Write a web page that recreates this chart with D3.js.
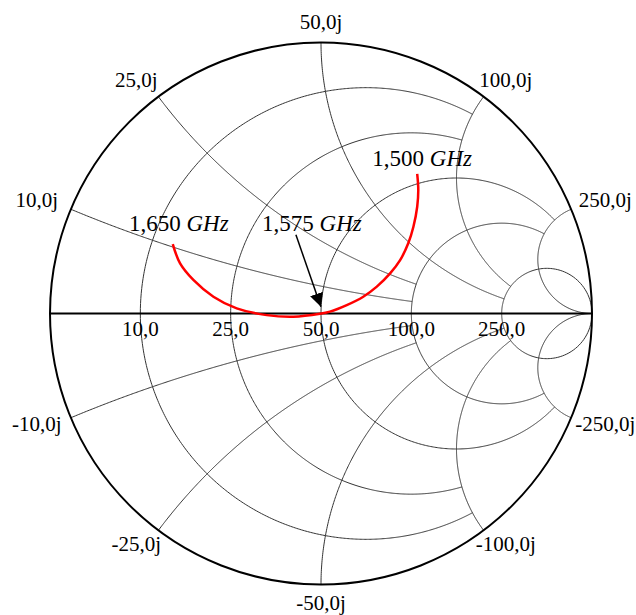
<!DOCTYPE html>
<html>
<head>
<meta charset="utf-8">
<script src="https://cdn.jsdelivr.net/npm/d3@7"></script>
<style>
  html, body { margin: 0; padding: 0; background: #fff; }
  svg { display: block; }
  text { font-family: "Liberation Serif", "Times New Roman", serif; fill: #000; }
</style>
</head>
<body>
<svg id="chart" width="636" height="615"></svg>
<script>
// ---------------- data ----------------
const Z0 = 50;
const resistanceOhms = [10, 25, 50, 100, 250];
const resistanceEndReactanceOhms = [100, 100, 250, 250, Infinity];
const resistanceLabels = ["10,0", "25,0", "50,0", "100,0", "250,0"];

const reactanceOhms = [10, 25, 50, 100, 250];
const reactanceEndResistanceOhms = [100, 100, 250, 250, Infinity];
const reactanceLabelsPos = ["10,0j", "25,0j", "50,0j", "100,0j", "250,0j"];
const reactanceLabelsNeg = ["-10,0j", "-25,0j", "-50,0j", "-100,0j", "-250,0j"];

// measured trace (reflection coefficient), 1,500 GHz -> 1,650 GHz
const traceRe = [0.355, 0.359, 0.355, 0.341, 0.322, 0.292, 0.255, 0.206, 0.156, 0.095, 0.033, -0.004, -0.102, -0.200, -0.311, -0.397, -0.471, -0.520, -0.547];
const traceIm = [0.515, 0.456, 0.394, 0.320, 0.259, 0.197, 0.148, 0.099, 0.062, 0.031, 0.007, -0.001, -0.012, -0.006, 0.019, 0.062, 0.124, 0.185, 0.256];

const markerFreqs = ["1,500", "1,575", "1,650"];
const markerIndex = [0, 11, 18];
const freqUnit = "GHz";

// ---------------- layout ----------------
const cx = 321, cy = 313.5, R = 271;
const x = d3.scaleLinear().domain([-1, 1]).range([cx - R, cx + R]);
const y = d3.scaleLinear().domain([-1, 1]).range([cy + R, cy - R]);

const svg = d3.select("#chart");

function gamma(r, xx) {
  // z = r + j x (normalized); gamma = (z-1)/(z+1)
  if (!isFinite(r) || !isFinite(xx)) return [1, 0];
  const ar = r - 1, ai = xx, br = r + 1, bi = xx;
  const d = br * br + bi * bi;
  return [(ar * br + ai * bi) / d, (ai * br - ar * bi) / d];
}

const line = d3.line().x(d => x(d[0])).y(d => y(d[1]));
const N = 600;

// reactance arcs
const gGrid = svg.append("g").attr("fill", "none").attr("stroke", "#333").attr("stroke-width", 1);
reactanceOhms.forEach((xo, i) => {
  const xn = xo / Z0;
  const rEnd = reactanceEndResistanceOhms[i] / Z0;
  [1, -1].forEach(sgn => {
    const pts = d3.range(N + 1).map(k => {
      const s = k / N;
      const r = isFinite(rEnd) ? rEnd * s : (s < 1 ? s / (1 - s) : Infinity);
      return gamma(r, sgn * xn);
    });
    gGrid.append("path").attr("d", line(pts));
  });
});

// resistance circles
resistanceOhms.forEach((ro, i) => {
  const rn = ro / Z0;
  const xEnd = resistanceEndReactanceOhms[i] / Z0;
  const pts = d3.range(N + 1).map(k => {
    const s = k / N;
    let xx;
    if (isFinite(xEnd)) xx = -xEnd + 2 * xEnd * s;
    else xx = (s === 0 || s === 1) ? Infinity : Math.tan(Math.PI * (s - 0.5));
    return gamma(rn, xx);
  });
  gGrid.append("path").attr("d", line(pts));
});

// real axis
svg.append("line")
  .attr("x1", x(-1)).attr("x2", x(1)).attr("y1", y(0)).attr("y2", y(0))
  .attr("stroke", "#000").attr("stroke-width", 2);

// outer circle
svg.append("circle")
  .attr("cx", x(0)).attr("cy", y(0)).attr("r", x(1) - x(0))
  .attr("fill", "none").attr("stroke", "#000").attr("stroke-width", 2);

// resistance labels
const gLab = svg.append("g").attr("font-size", 21);
resistanceOhms.forEach((ro, i) => {
  const rn = ro / Z0;
  gLab.append("text")
    .attr("x", x((rn - 1) / (rn + 1)))
    .attr("y", y(0) + 22)
    .attr("text-anchor", "middle")
    .text(resistanceLabels[i]);
});

// reactance labels
reactanceOhms.forEach((xo, i) => {
  const xn = xo / Z0;
  [[1, reactanceLabelsPos[i]], [-1, reactanceLabelsNeg[i]]].forEach(([sgn, lab]) => {
    const g = gamma(0, sgn * xn);
    const px = x(g[0]), py = y(g[1]);
    gLab.append("text")
      .attr("x", px + 37 * g[0])
      .attr("y", py - 19.5 * g[1] + 5.5)
      .attr("text-anchor", "middle")
      .text(lab);
  });
});

// trace
const tracePts = traceRe.map((v, i) => [v, traceIm[i]]);
svg.append("path")
  .attr("d", d3.line().x(d => x(d[0])).y(d => y(d[1])).curve(d3.curveCatmullRom.alpha(0.5))(tracePts))
  .attr("fill", "none").attr("stroke", "#ff0000").attr("stroke-width", 2.5);

// marker labels
const markerLayout = [
  { dx: 5, dy: -8, arrow: false },
  { dx: -8, dy: -83, arrow: true },
  { dx: 6, dy: -13, arrow: false }
];
svg.append("defs").append("marker")
  .attr("id", "ah").attr("viewBox", "0 0 10 10").attr("refX", 10).attr("refY", 5)
  .attr("markerWidth", 9).attr("markerHeight", 9).attr("markerUnits", "strokeWidth")
  .attr("orient", "auto")
  .append("path").attr("d", "M0,0 L10,5 L0,10 Z").attr("fill", "#000");

const gM = svg.append("g").attr("font-size", 23);
markerIndex.forEach((idx, i) => {
  const px = x(traceRe[idx]), py = y(traceIm[idx]);
  const L = markerLayout[i];
  const t = gM.append("text")
    .attr("x", px + L.dx).attr("y", py + L.dy)
    .attr("text-anchor", "middle");
  t.append("tspan").text(markerFreqs[i] + " ");
  t.append("tspan").attr("font-style", "italic").text(freqUnit);
  if (L.arrow) {
    svg.append("line")
      .attr("x1", px - 24).attr("y1", py + L.dy + 4)
      .attr("x2", px + 1).attr("y2", py - 7)
      .attr("stroke", "#000").attr("stroke-width", 1.5)
      .attr("marker-end", "url(#ah)");
  }
});
</script>
</body>
</html>
